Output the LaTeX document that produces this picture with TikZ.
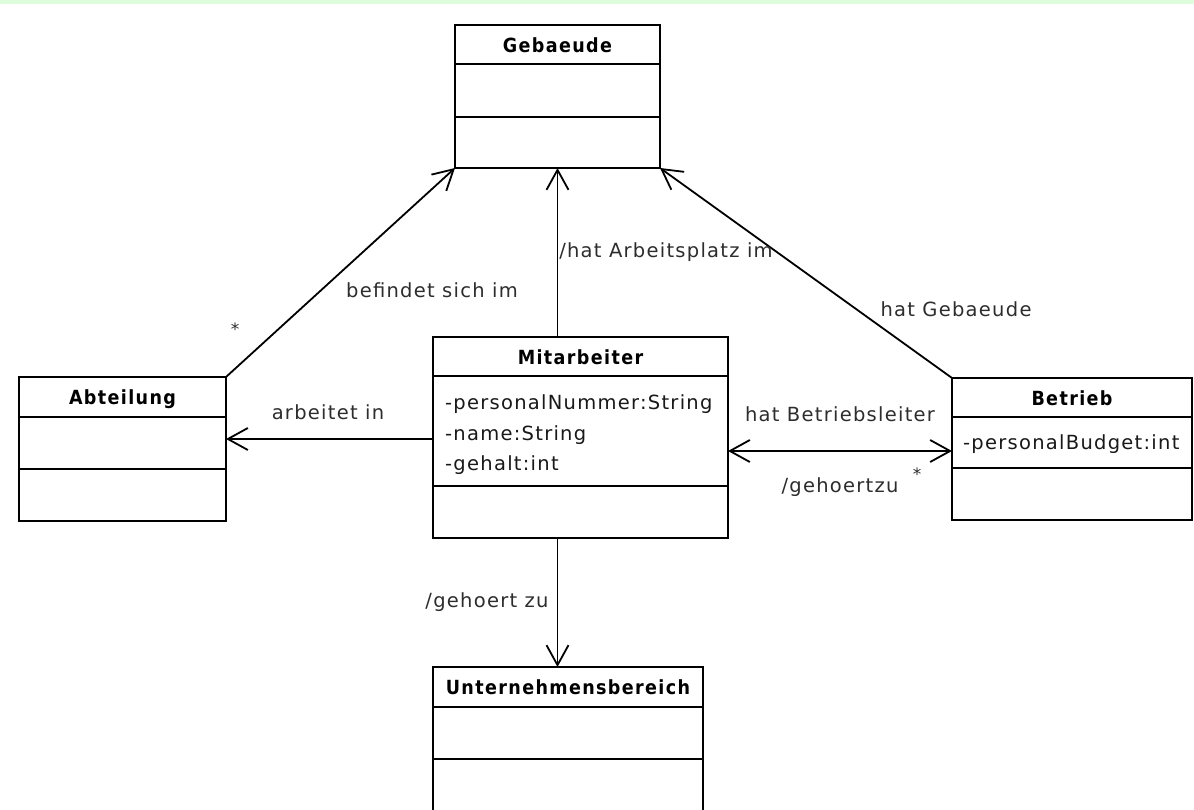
\documentclass[tikz,border=0pt]{standalone}
\usepackage{fontspec}
\usetikzlibrary{arrows.meta,calc}
\newfontfamily\attrfont[LetterSpace=6.5]{DejaVu Sans}
\newfontfamily\titlefont[LetterSpace=7]{DejaVu Sans Condensed}
\definecolor{bandgreen}{RGB}{221,253,221}
\definecolor{labelgray}{RGB}{45,45,45}
\tikzset{
  umlbox/.style={draw, line width=2pt, rectangle, anchor=north west, inner sep=0pt, outer sep=0pt, fill=white},
  divider/.style={line width=2pt},
  boxtitle/.style={anchor=base, inner sep=0pt, font=\titlefont\bfseries\fontsize{19.5}{22}\selectfont},
  attr/.style={anchor=base west, inner sep=0pt, text=black!90, font=\attrfont\fontsize{19.5}{22}\selectfont},
  lbl/.style={anchor=base, inner sep=0pt, text=labelgray, font=\attrfont\fontsize{19.5}{22}\selectfont},
  star/.style={inner sep=0pt, text=labelgray, font=\attrfont\fontsize{17}{20}\selectfont},
  assoc/.style={line width=1.8pt, line cap=round},
  opentip/.style={-{Straight Barb[length=20pt,width=22pt,line width=1.8pt]}},
  bothtips/.style={{Straight Barb[length=20pt,width=22pt,line width=1.8pt]}-{Straight Barb[length=20pt,width=22pt,line width=1.8pt]}}
}
\begin{document}
\begin{tikzpicture}[x=1pt,y=-1pt]
\useasboundingbox (0,0) rectangle (1194,809);
\clip (0,0) rectangle (1194,809);
\fill[white] (0,0) rectangle (1194,809);
\fill[bandgreen] (0,0) rectangle (1194,4);

% boxes
\node[umlbox, minimum width=205pt, minimum height=143pt] (geb) at (455,25) {};
\node[umlbox, minimum width=207pt, minimum height=144pt] (abt) at (19,377) {};
\node[umlbox, minimum width=295pt, minimum height=201pt] (mit) at (433,337) {};
\node[umlbox, minimum width=240pt, minimum height=142pt] (bet) at (952,378) {};
\node[umlbox, minimum width=270pt, minimum height=170pt] (unt) at (433,667) {};

% dividers
\draw[divider] ($(geb.north west)+(0,39)$) -- ($(geb.north east)+(0,39)$);
\draw[divider] ($(geb.north west)+(0,92)$) -- ($(geb.north east)+(0,92)$);
\draw[divider] ($(abt.north west)+(0,40)$) -- ($(abt.north east)+(0,40)$);
\draw[divider] ($(abt.north west)+(0,92)$) -- ($(abt.north east)+(0,92)$);
\draw[divider] ($(mit.north west)+(0,39)$) -- ($(mit.north east)+(0,39)$);
\draw[divider] ($(mit.north west)+(0,149)$) -- ($(mit.north east)+(0,149)$);
\draw[divider] ($(bet.north west)+(0,39)$) -- ($(bet.north east)+(0,39)$);
\draw[divider] ($(bet.north west)+(0,90)$) -- ($(bet.north east)+(0,90)$);
\draw[divider] ($(unt.north west)+(0,40)$) -- ($(unt.north east)+(0,40)$);
\draw[divider] ($(unt.north west)+(0,92)$) -- ($(unt.north east)+(0,92)$);

% titles
\node[boxtitle] (gebt) at (557.5,52) {Gebaeude};
\node[boxtitle] (abtt) at (122.5,404) {Abteilung};
\node[boxtitle] (mitt) at (580.5,364) {Mitarbeiter};
\node[boxtitle] (bett) at (1072,405) {Betrieb};
\node[boxtitle] (untt) at (568,694) {Unternehmensbereich};

% attributes
\node[attr] (a1) at (445,409) {-personalNummer:String};
\node[attr] (a2) at (445,440) {-name:String};
\node[attr] (a3) at (445,470) {-gehalt:int};
\node[attr] (b1) at (963,449) {-personalBudget:int};

% connector points
\coordinate (mitL) at ($(mit.north west)+(0,102)$);
\coordinate (mitR) at ($(mit.north east)+(0,114)$);

% connectors
\draw[assoc,opentip] (abt.north east) -- (geb.south west);
\draw[assoc,opentip] (geb.south |- mit.north) -- (geb.south);
\draw[assoc,opentip] (bet.north west) -- (geb.south east);
\draw[assoc,opentip] (mitL) -- (abt.east |- mitL);
\draw[assoc,bothtips] (mitR) -- (bet.west |- mitR);
\draw[assoc,opentip] (geb.south |- mit.south) -- (geb.south |- unt.north);

% labels
\node[lbl] (l1) at (432,297) {befindet sich im};
\node[star] (s1) at (235,329) {*};
\node[lbl] (l2) at (666,257) {/hat Arbeitsplatz im};
\node[lbl] (l3) at (956,316) {hat Gebaeude};
\node[lbl] (l4) at (328,419) {arbeitet in};
\node[lbl] (l5) at (840,421) {hat Betriebsleiter};
\node[lbl] (l6) at (840,492) {/gehoertzu};
\node[star] (s2) at (917,474) {*};
\node[lbl] (l7) at (487,607) {/gehoert zu};
\end{tikzpicture}
\end{document}
